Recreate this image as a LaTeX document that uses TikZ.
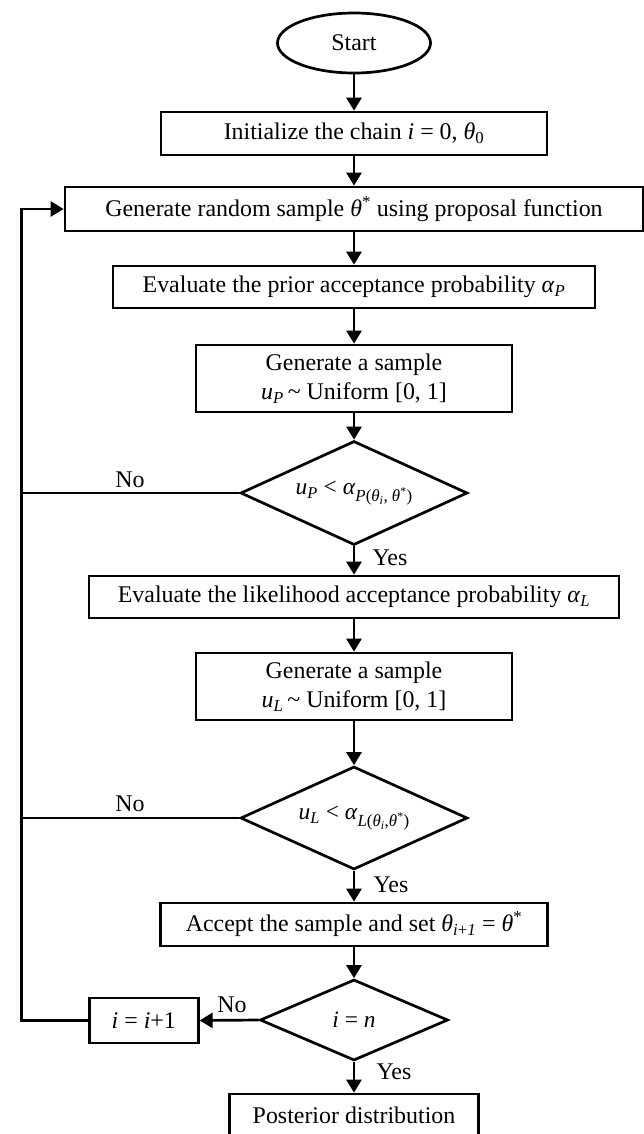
\documentclass[tikz,border=0pt]{standalone}
\usepackage{fontspec}
\setmainfont{Liberation Serif}
\usetikzlibrary{shapes.geometric,arrows.meta}

% italic symbols set in the text font
\newcommand{\Th}{\textit{θ}}
\newcommand{\Al}{\textit{α}}
% lowered, smaller argument group in the decision labels
\newcommand{\lowgrp}[1]{\raisebox{-0.3em}{\fontsize{17}{19}\selectfont #1}}

\begin{document}
\begin{tikzpicture}[x=1bp,y=-1bp,
  every node/.style={font=\fontsize{24}{29}\selectfont, inner sep=0pt},
  box/.style={draw, line width=2.7bp, minimum height=43bp, align=center},
  tallbox/.style={box, minimum height=67bp},
  dec/.style={draw, diamond, shape aspect=2.2, line width=2.7bp, font=\fontsize{23.5}{27}\selectfont},
  term/.style={draw, ellipse, line width=2.7bp},
  flow/.style={line width=2.7bp, -{Triangle[length=13bp,width=15bp]}},
  link/.style={line width=2.7bp}]

\useasboundingbox (0,0) rectangle (644,1134);

% main column
\node[term, minimum width=153bp, minimum height=60bp] (start) at (354,43) {Start};
\node[box, minimum width=386bp] (init) at (354,133.5) {Initialize the chain \textit{i} = 0, \Th\textsubscript{0}};
\node[box, minimum width=578bp, minimum height=44bp] (gen) at (354,209) {Generate random sample \Th\textsuperscript{*} using proposal function};
\node[box, minimum width=482bp, minimum height=42bp] (evp) at (354,287) {Evaluate the prior acceptance probability \Al\textsubscript{\textit{P}}};
\node[tallbox, minimum width=316bp] (sp) at (354,378.5) {Generate a sample\\\textit{u}\textsubscript{\textit{P}}\,\textasciitilde\ Uniform [0, 1]};
\node[dec, minimum width=227bp, minimum height=104bp] (d1) at (354,493)
  {\textit{u}\textsubscript{\textit{P}} < \Al\lowgrp{\textit{P}(\Th\textsubscript{\textit{i}}, \Th\textsuperscript{*})}};
\node[box, minimum width=530bp, minimum height=42bp] (evl) at (354,597) {Evaluate the likelihood acceptance probability \Al\textsubscript{\textit{L}}};
\node[tallbox, minimum width=316bp] (sl) at (354,686.5) {Generate a sample\\\textit{u}\textsubscript{\textit{L}}\,\textasciitilde\ Uniform [0, 1]};
\node[dec, minimum width=227bp, minimum height=103bp] (d2) at (354,818)
  {\textit{u}\textsubscript{\textit{L}} < \Al\lowgrp{\textit{L}(\Th\textsubscript{\textit{i}},\Th\textsuperscript{*})}};
\node[box, minimum width=387bp] (acc) at (354,924.5) {Accept the sample and set \Th\textsubscript{\textit{i}+\textit{1}} = \Th\textsuperscript{*}};
\node[dec, minimum width=188bp, minimum height=81bp] (d3) at (354,1020) {\textit{i} = \textit{n}};
\node[box, minimum width=249bp] (post) at (354,1115.5) {Posterior distribution};
\node[box, minimum width=109bp, minimum height=45bp] (inc) at (143.8,1020.5) {\textit{i} = \textit{i}+1};

% forward connectors
\draw[flow] (start) -- (init);
\draw[flow] (init) -- (gen);
\draw[flow] (gen) -- (evp);
\draw[flow] (evp) -- (sp);
\draw[flow] (sp) -- (d1);
\draw[flow] (d1) -- (evl);
\draw[flow] (evl) -- (sl);
\draw[flow] (sl) -- (d2);
\draw[flow] (d2) -- (acc);
\draw[flow] (acc) -- (d3);
\draw[flow] (d3) -- (post);
\draw[flow] (d3.west) -- (inc.east);

% feedback loop on the left
\coordinate (lb) at (21.4,1020.5);
\coordinate (lt) at (21.4,209);
\draw[flow] (inc.west) -- (lb) -- (lt) -- (gen.west);
\draw[link] (d1.west) -- (d1.west -| lb);
\draw[link] (d2.west) -- (d2.west -| lb);

% branch labels
\node (no1) at (130,480) {No};
\node (yes1) at (390,558) {Yes};
\node (no2) at (130,804) {No};
\node (yes2) at (391,885) {Yes};
\node (no3) at (232,1005) {No};
\node (yes3) at (394,1072) {Yes};
\end{tikzpicture}
\end{document}
